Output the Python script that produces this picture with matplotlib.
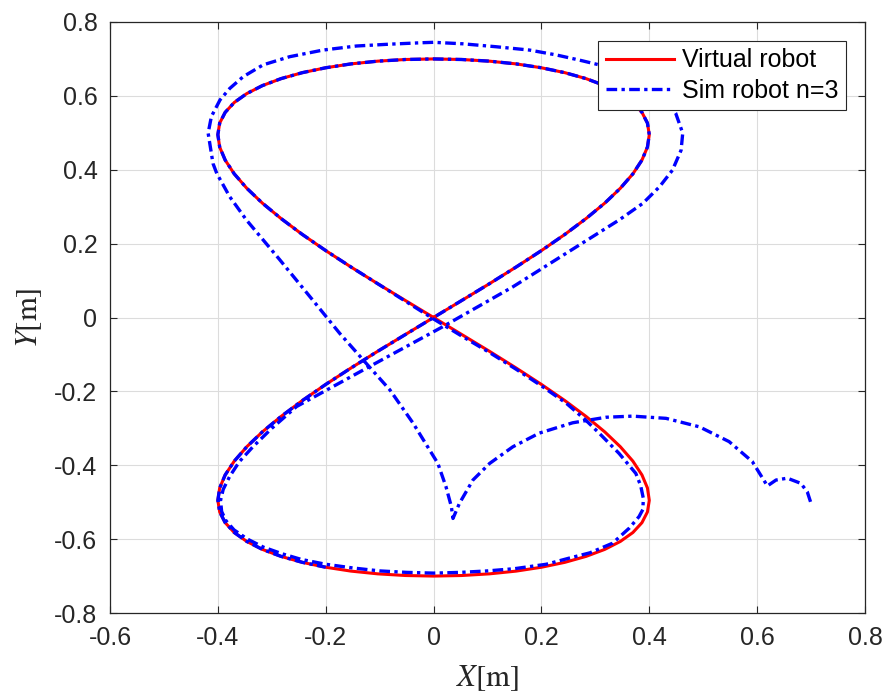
import matplotlib
matplotlib.use("Agg")
import matplotlib.pyplot as plt

# virtual robot (reference figure-eight)
red_x = [0, 0.052, 0.1035, 0.153, 0.2, 0.2435, 0.2828, 0.3174, 0.3464, 0.3696, 0.3864, 0.3966, 0.4,
         0.3966, 0.3864, 0.3696, 0.3464, 0.3174, 0.2828, 0.2435, 0.2, 0.153, 0.1035, 0.052, 0,
         -0.052, -0.1035, -0.153, -0.2, -0.2435, -0.2828, -0.3174, -0.3464, -0.3696, -0.3864, -0.3966, -0.4,
         -0.3966, -0.3864, -0.3696, -0.3464, -0.3174, -0.2828, -0.2435, -0.2, -0.153, -0.1035, -0.052, 0,
         0.052, 0.1035, 0.153, 0.2, 0.2435, 0.2828, 0.3174, 0.3464, 0.3696, 0.3864, 0.3966, 0.4,
         0.3966, 0.3864, 0.3696, 0.3464, 0.3174, 0.2828, 0.2435, 0.2, 0.153, 0.1035, 0.052, 0,
         -0.052, -0.1035, -0.153, -0.2, -0.2435, -0.2828, -0.3174, -0.3464, -0.3696, -0.3864, -0.3966, -0.4,
         -0.3966, -0.3864, -0.3696, -0.3464, -0.3174, -0.2828, -0.2435, -0.2, -0.153, -0.1035, -0.052, 0]
red_y = [0, 0.0458, 0.0914, 0.1366, 0.1812, 0.225, 0.2679, 0.3096, 0.35, 0.3889, 0.4262, 0.4615, 0.495,
         0.5263, 0.5554, 0.5821, 0.6062, 0.6278, 0.6467, 0.6628, 0.6761, 0.6866, 0.694, 0.6985, 0.7,
         0.6985, 0.694, 0.6866, 0.6761, 0.6628, 0.6467, 0.6278, 0.6062, 0.5821, 0.5554, 0.5263, 0.495,
         0.4615, 0.4262, 0.3889, 0.35, 0.3096, 0.2679, 0.225, 0.1812, 0.1366, 0.0914, 0.0458, 0,
         -0.0458, -0.0914, -0.1366, -0.1812, -0.225, -0.2679, -0.3096, -0.35, -0.3889, -0.4262, -0.4615, -0.495,
         -0.5263, -0.5554, -0.5821, -0.6062, -0.6278, -0.6467, -0.6628, -0.6761, -0.6866, -0.694, -0.6985, -0.7,
         -0.6985, -0.694, -0.6866, -0.6761, -0.6628, -0.6467, -0.6278, -0.6062, -0.5821, -0.5554, -0.5263, -0.495,
         -0.4615, -0.4262, -0.3889, -0.35, -0.3096, -0.2679, -0.225, -0.1812, -0.1366, -0.0914, -0.0458, 0]

# simulated robot path (n=3)
sim_x = [0.699, 0.693, 0.681, 0.656, 0.635, 0.619, 0.591, 0.548, 0.493, 0.431, 0.369, 0.32, 0.258, 0.196,
         0.147, 0.104, 0.073, 0.048, 0.036,
         0.033, 0.023, 0.008, -0.038, -0.081, -0.125, -0.174, -0.224, -0.285, -0.347, -0.378, -0.402, -0.409,
         -0.415, -0.418, -0.412, -0.396, -0.378, -0.353, -0.316, -0.267, -0.205, -0.143, -0.081, -0.02, 0.0,
         0.054, 0.116, 0.178, 0.227, 0.27, 0.307, 0.35, 0.39, 0.425, 0.449, 0.462, 0.459, 0.443, 0.419, 0.388,
         0.344, 0.295, 0.246, 0.147, 0.017, -0.119, -0.254,
         -0.3, -0.335, -0.36, -0.378, -0.39, -0.395, -0.393, -0.385, -0.37, -0.345, -0.315, -0.28, -0.245, -0.2,
         -0.15, -0.1, -0.05, 0, 0.05, 0.1, 0.15, 0.209, 0.25, 0.29, 0.332, 0.363, 0.381, 0.388, 0.389, 0.384,
         0.375, 0.344, 0.307, 0.283, 0.246, 0.2, 0.153, 0.104, 0.052, 0, -0.052,
         -0.1035, -0.153, -0.2, -0.2435, -0.2828, -0.3174, -0.3464, -0.3696, -0.3864, -0.3966, -0.4,
         -0.3966, -0.3864, -0.3696, -0.3464, -0.3174, -0.2828, -0.2435, -0.2, -0.153, -0.1035, -0.052, 0,
         0.052, 0.1035, 0.153, 0.2, 0.2435, 0.2828, 0.3174, 0.3464, 0.3696, 0.3864, 0.3966, 0.4,
         0.3966, 0.3864, 0.3696, 0.3464, 0.3174, 0.2828, 0.2435, 0.2, 0.153, 0.1035, 0.052, 0,
         -0.052, -0.1035, -0.153, -0.2, -0.2435, -0.2828, -0.3174, -0.3464, -0.3696, -0.3864, -0.3966, -0.4,
         -0.3966, -0.3864, -0.3696, -0.3464, -0.3174, -0.2828, -0.2435, -0.2]
sim_y = [-0.499, -0.472, -0.449, -0.435, -0.44, -0.456, -0.39, -0.336, -0.296, -0.273, -0.267, -0.27, -0.285, -0.313,
         -0.35, -0.395, -0.44, -0.503, -0.544,
         -0.512, -0.458, -0.395, -0.286, -0.196, -0.124, -0.043, 0.047, 0.156, 0.264, 0.327, 0.39, 0.417,
         0.472, 0.499, 0.544, 0.589, 0.62, 0.652, 0.684, 0.706, 0.724, 0.735, 0.74, 0.744, 0.745,
         0.741, 0.733, 0.724, 0.711, 0.697, 0.684, 0.665, 0.64, 0.605, 0.553, 0.499, 0.453, 0.399, 0.354, 0.309,
         0.264, 0.219, 0.174, 0.083, -0.025, -0.133, -0.241,
         -0.3, -0.35, -0.39, -0.43, -0.465, -0.495, -0.525, -0.55, -0.575, -0.6, -0.622, -0.64, -0.655, -0.668,
         -0.678, -0.686, -0.69, -0.692, -0.69, -0.686, -0.68, -0.668, -0.652, -0.637, -0.611, -0.57, -0.539, -0.52, -0.49, -0.455,
         -0.422, -0.368, -0.313, -0.279, -0.232, -0.185, -0.14, -0.095, -0.05, -0.004, 0.044,
         0.0914, 0.1366, 0.1812, 0.225, 0.2679, 0.3096, 0.35, 0.3889, 0.4262, 0.4615, 0.495,
         0.5263, 0.5554, 0.5821, 0.6062, 0.6278, 0.6467, 0.6628, 0.6761, 0.6866, 0.694, 0.6985, 0.7,
         0.6985, 0.694, 0.6866, 0.6761, 0.6628, 0.6467, 0.6278, 0.6062, 0.5821, 0.5554, 0.5263, 0.495,
         0.4615, 0.4262, 0.3889, 0.35, 0.3096, 0.2679, 0.225, 0.1812, 0.1366, 0.0914, 0.0458, 0,
         -0.0458, -0.0914, -0.1366, -0.1812, -0.225, -0.2679, -0.3096, -0.35, -0.3889, -0.4262, -0.4615, -0.495,
         -0.5263, -0.5554, -0.5821, -0.6062, -0.6278, -0.6467, -0.6628, -0.6761]

x_ticks = [-0.6, -0.4, -0.2, 0, 0.2, 0.4, 0.6, 0.8]
y_ticks = [-0.8, -0.6, -0.4, -0.2, 0, 0.2, 0.4, 0.6, 0.8]

plt.rcParams["font.family"] = ["Liberation Sans", "DejaVu Sans"]
plt.rcParams["mathtext.fontset"] = "stix"

fig = plt.figure(figsize=(8.87, 6.94), dpi=100)
ax = fig.add_axes([0.124, 0.1167, 0.8512, 0.8516])

ax.plot(red_x, red_y, color="red", lw=2.2, label="Virtual robot", zorder=3)
ax.plot(sim_x, sim_y, color="blue", lw=2.4, dashes=(3.2, 1.3, 1.0, 1.3),
        label="Sim robot n=3", zorder=4)

ax.set_xlim(-0.6, 0.8)
ax.set_ylim(-0.8, 0.8)
ax.set_xticks(x_ticks)
ax.set_yticks(y_ticks)
ax.set_xticklabels(["%g" % v for v in x_ticks])
ax.set_yticklabels(["%g" % v for v in y_ticks])

ax.grid(True, color="#dcdcdc", lw=0.8)
ax.set_axisbelow(True)
ax.tick_params(direction="in", length=5, width=0.8, colors="#262626",
               labelsize=18, top=True, right=True, pad=9)
for s in ax.spines.values():
    s.set_color("#262626")
    s.set_linewidth(0.9)

ax.set_xlabel(r"$X[\mathrm{m}]$", fontsize=22, color="#262626", labelpad=10)
ax.set_ylabel(r"$Y[\mathrm{m}]$", fontsize=22, color="#262626", labelpad=7)

leg = ax.legend(loc="upper right", bbox_to_anchor=(0.9748, 0.9679), borderaxespad=0,
                fontsize=18, handlelength=2.75, handletextpad=0.3, borderpad=0.3,
                labelspacing=0.25, fancybox=False, framealpha=1)
leg.get_frame().set_edgecolor("#262626")
leg.get_frame().set_linewidth(0.8)

fig.savefig("out.png", dpi=100)
